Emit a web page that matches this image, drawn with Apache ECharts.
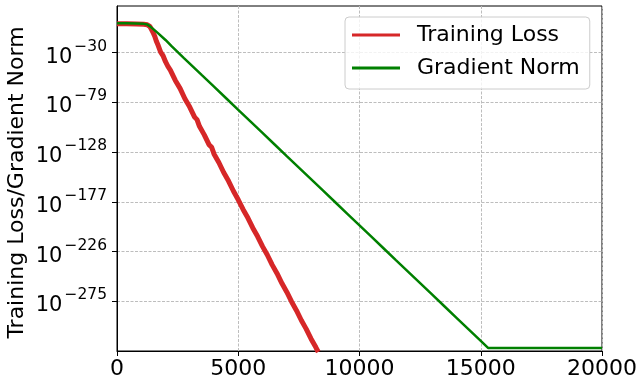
<!DOCTYPE html>
<html>
<head>
<meta charset="utf-8">
<script src="https://cdn.jsdelivr.net/npm/echarts@6/dist/echarts.min.js"></script>
<style>html,body{margin:0;padding:0;background:#fff}#c{width:637px;height:388px}</style>
</head>
<body>
<div id="c"></div>
<script>
// Values are log10 exponents
const lossIters = [0,400,800,1100,1250,1350,1420,1500,1560,1620,1700,1800,1900,2000,2050,2100,2200,2400,2600,2800,3000,3200,3300,3400,3600,3800,3900,4000,4200,4400,4600,4800,5000,5200,5400,5600,5800,6000,6200,6400,6600,6800,7000,7200,7400,7600,7800,8000,8200,8300];
const lossExp   = [-1.4,-1.5,-1.7,-2.0,-2.5,-4.0,-7.0,-10.8,-14.0,-18.5,-23.0,-29.5,-33.0,-38.9,-37.5,-43.5,-47.2,-57.1,-65.2,-75.4,-83.6,-93.5,-96.0,-102.6,-111.0,-120.9,-123.0,-129.8,-138.2,-148.1,-156.5,-166.3,-175.0,-184.5,-193.0,-202.7,-211.2,-220.9,-229.4,-239.1,-247.6,-257.3,-265.8,-275.4,-284.0,-293.7,-302.2,-311.9,-320.4,-325.0];
const gradIters = [0,400,800,1100,1250,1350,1500,1700,2000,2250,2527,2750,3000,3500,4000,4500,5000,5500,6000,6500,7000,7500,8000,8500,9000,9500,10000,10500,11000,11500,12000,12500,13000,13500,14000,14500,15000,15300,20000];
const gradExp   = [-1.0,-1.1,-1.3,-1.6,-2.2,-3.8,-6.8,-11.0,-17.5,-23.6,-30.0,-35.1,-40.8,-52.2,-63.5,-74.9,-86.3,-97.7,-109.1,-120.5,-131.9,-143.2,-154.6,-166.0,-177.4,-188.8,-200.2,-211.6,-223.0,-234.4,-245.7,-257.1,-268.5,-279.9,-291.3,-302.7,-314.1,-321.0,-321.0];
const yTickExps = [-30,-79,-128,-177,-226,-275];
const xTicks = [0,5000,10000,15000,20000];
const seriesNames = ['Training Loss','Gradient Norm'];

const OFFSET = -30; // plotted value = exponent - OFFSET so ticks fall on multiples of 49
const FONT = 'DejaVu Sans';
const toPts = (xs, es) => xs.map((x, i) => [x, es[i] - OFFSET]);
const gridLine = {show: true, lineStyle: {color: '#bdbdbd', type: [3, 1.5], width: 1}};

const chart = echarts.init(document.getElementById('c'), null, {renderer: 'canvas'});
chart.setOption({
  animation: false,
  backgroundColor: '#ffffff',
  grid: {left: 117, right: 35, top: 6, bottom: 37, show: true, borderColor: '#000', borderWidth: 1,
    containLabel: false, outerBoundsMode: 'none'},
  legend: {
    data: [
      {name: seriesNames[0], icon: 'rect', itemStyle: {color: '#d62728'}},
      {name: seriesNames[1], icon: 'rect', itemStyle: {color: '#008000'}}
    ],
    orient: 'vertical',
    left: 345, top: 17,
    padding: [6, 10, 9, 7],
    itemGap: 9,
    itemWidth: 48, itemHeight: 3,
    backgroundColor: 'rgba(255,255,255,0.8)',
    borderColor: '#cccccc', borderWidth: 1, borderRadius: 4,
    textStyle: {fontFamily: FONT, fontSize: 22, color: '#000', lineHeight: 24, padding: [0, 0, 0, 12]}
  },
  xAxis: {
    type: 'value', min: 0, max: 20000, interval: 5000,
    axisLine: {show: true, onZero: false, lineStyle: {color: '#000', width: 1}},
    axisTick: {show: true, inside: false, length: 5, lineStyle: {color: '#000'}},
    axisLabel: {fontFamily: FONT, fontSize: 22, color: '#000', margin: 7,
      formatter: v => xTicks.includes(v) ? String(v) : ''},
    splitLine: gridLine
  },
  yAxis: {
    type: 'value', min: -294, max: 46, interval: 49,
    name: 'Training Loss/Gradient Norm', nameLocation: 'middle', nameGap: 89, nameMoveOverlap: false,
    nameTextStyle: {fontFamily: FONT, fontSize: 22, color: '#000', padding: [0, 8, 0, 0]},
    axisLine: {show: true, onZero: false, lineStyle: {color: '#000', width: 1}},
    axisTick: {show: true, inside: false, length: 5, lineStyle: {color: '#000'},
      customValues: yTickExps.map(e => e - OFFSET)},
    axisLabel: {fontFamily: FONT, color: '#000', margin: 10,
      customValues: yTickExps.map(e => e - OFFSET),
      formatter: v => {
        const e = Math.round(v + OFFSET);
        if (!yTickExps.includes(e)) return '';
        return '{b|10}{s|\u2212' + (-e) + '}';
      },
      rich: {
        b: {fontFamily: FONT, fontSize: 21, color: '#000', verticalAlign: 'bottom', lineHeight: 30},
        s: {fontFamily: FONT, fontSize: 15.5, color: '#000', verticalAlign: 'top', lineHeight: 30, padding: [1, 0, 0, 2]}
      }
    },
    splitLine: gridLine
  },
  series: [
    {name: seriesNames[0], type: 'line', data: toPts(lossIters, lossExp), showSymbol: false, symbol: 'none',
      lineStyle: {color: '#d62728', width: 5}, itemStyle: {color: '#d62728'}, z: 3, clip: true},
    {name: seriesNames[1], type: 'line', data: toPts(gradIters, gradExp), showSymbol: false, symbol: 'none',
      lineStyle: {color: '#008000', width: 2.5}, itemStyle: {color: '#008000'}, z: 4, clip: true}
  ]
});
</script>
</body>
</html>
